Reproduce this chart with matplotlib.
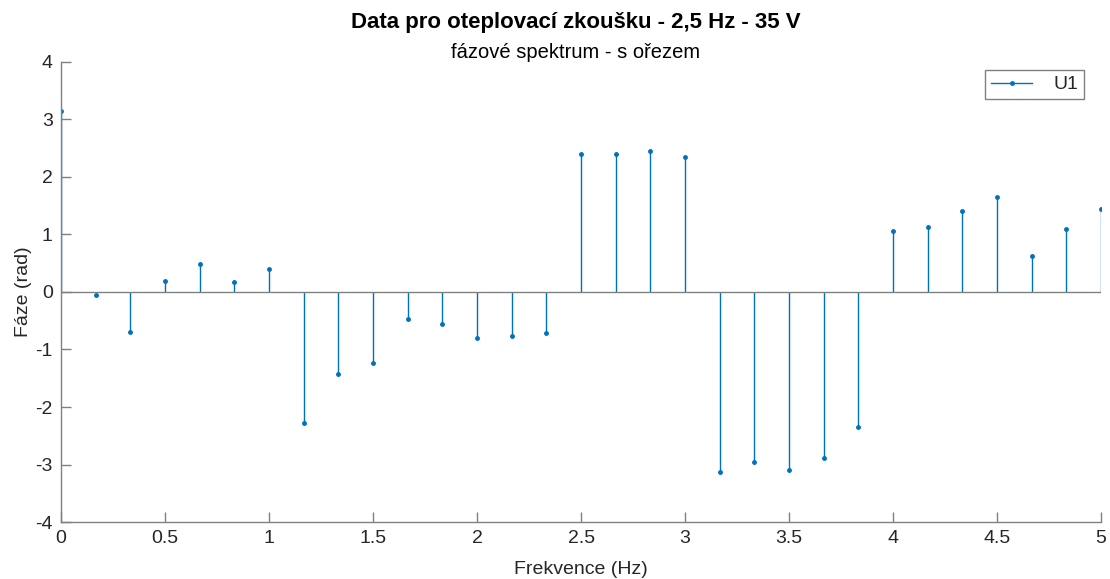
import numpy as np
import matplotlib
matplotlib.use("Agg")
import matplotlib.pyplot as plt
from matplotlib.lines import Line2D
from matplotlib.legend_handler import HandlerLine2D

# frequency bins (Hz), step 1/6 Hz
freq = [0, 1/6, 2/6, 3/6, 4/6, 5/6, 1, 7/6, 8/6, 9/6, 10/6, 11/6, 2, 13/6, 14/6, 15/6,
        16/6, 17/6, 3, 19/6, 20/6, 21/6, 22/6, 23/6, 4, 25/6, 26/6, 27/6, 28/6, 29/6, 5]
# phase (rad)
phase = [3.14, -0.05, -0.69, 0.19, 0.49, 0.17, 0.40, -2.27, -1.43, -1.23, -0.47, -0.55,
         -0.80, -0.77, -0.71, 2.40, 2.40, 2.45, 2.35, -3.13, -2.96, -3.09, -2.89, -2.34,
         1.06, 1.13, 1.41, 1.65, 0.62, 1.09, 1.45]

x_ticks = [0, 0.5, 1, 1.5, 2, 2.5, 3, 3.5, 4, 4.5, 5]
x_ticklabels = ["0", "0.5", "1", "1.5", "2", "2.5", "3", "3.5", "4", "4.5", "5"]
y_ticks = [-4, -3, -2, -1, 0, 1, 2, 3, 4]

blue = "#0072BD"
axcol = "#262626"

plt.rcParams["font.family"] = ["Liberation Sans", "DejaVu Sans"]
plt.rcParams["axes.unicode_minus"] = False


class StemHandler(HandlerLine2D):
    # marker at the right end of the legend line, like matlab
    def get_xdata(self, legend, xdescent, ydescent, width, height, fontsize):
        xdata, _ = super().get_xdata(legend, xdescent, ydescent, width, height, fontsize)
        return xdata, [xdata[-1]]


fig = plt.figure(figsize=(11.1, 5.79), dpi=100)
ax = fig.add_axes([0.055, 0.0984, 0.937, 0.7946])

markerline, stemlines, baseline = ax.stem(freq, phase)
markerline.set_color(blue)
markerline.set_marker("o")
markerline.set_markersize(2.5)
stemlines.set_color(blue)
stemlines.set_linewidth(1.0)
baseline.set_color("#808080")
baseline.set_linewidth(1.0)

ax.set_xlim(0, 5)
ax.set_ylim(-4, 4)
ax.set_xticks(x_ticks)
ax.set_xticklabels(x_ticklabels)
ax.set_yticks(y_ticks)

for side in ["top", "right"]:
    ax.spines[side].set_visible(False)
for side in ["left", "bottom"]:
    ax.spines[side].set_color("#808080")
    ax.spines[side].set_linewidth(1.0)
ax.tick_params(direction="in", length=7, width=1.0, color="#808080",
               labelsize=14, labelcolor=axcol, pad=6)

ax.set_xlabel("Frekvence (Hz)", fontsize=14, color=axcol, labelpad=10)
ax.set_ylabel("Fáze (rad)", fontsize=14, color=axcol, labelpad=2)

fig.text(0.5185, 0.962, "Data pro oteplovací zkoušku - 2,5 Hz - 35 V",
         ha="center", va="center", fontsize=16, fontweight="bold", color="black")
fig.text(0.5185, 0.910, "fázové spektrum - s ořezem",
         ha="center", va="center", fontsize=14.5, color="black")

proxy = Line2D([], [], color=blue, lw=1.0, marker="o", markersize=2.5)
leg = ax.legend([proxy], ["U1"], loc="upper right", handler_map={Line2D: StemHandler()},
                numpoints=1, fontsize=14, fancybox=False, framealpha=1,
                edgecolor="#808080", handlelength=2.1, borderpad=0.3,
                handletextpad=1.1, borderaxespad=0, bbox_to_anchor=(0.9837, 0.9826))
leg.get_frame().set_linewidth(1.0)
for t in leg.get_texts():
    t.set_color(axcol)

fig.savefig("out.png", dpi=100)
